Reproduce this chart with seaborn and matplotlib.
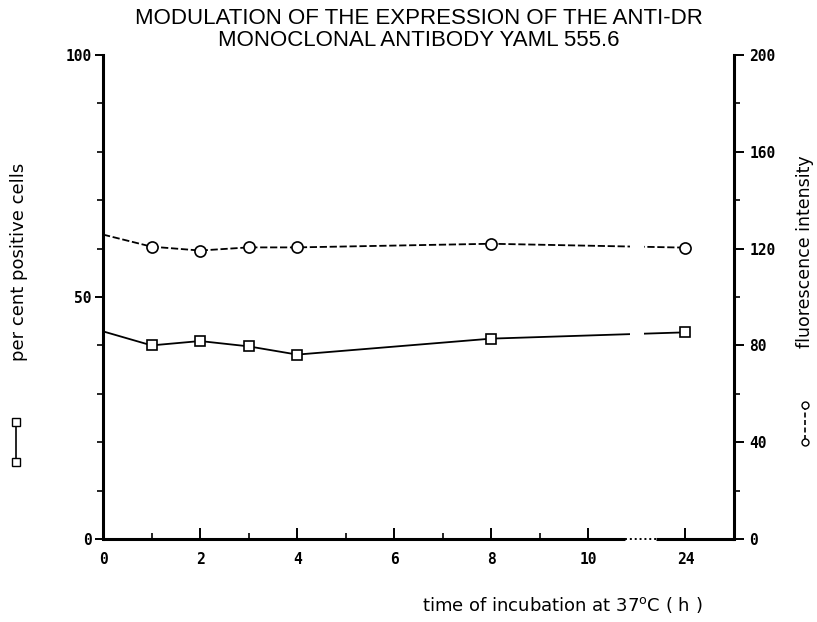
import numpy as np
import matplotlib
matplotlib.use("Agg")
import matplotlib.pyplot as plt
from matplotlib.ticker import MultipleLocator, FixedLocator
from matplotlib.lines import Line2D
import seaborn as sns

# ---- data ----
hours = [0, 1, 2, 3, 4, 8, 24]
percent_positive = [42.9, 40.0, 40.9, 39.8, 38.1, 41.4, 42.7]
fluorescence = [125.8, 120.8, 119.2, 120.5, 120.5, 122.0, 120.4]
x_tick_hours = [0, 2, 4, 6, 8, 10, 24]
x_minor_hours = [1, 3, 5, 7, 9]
left_ticks = [0, 50, 100]
right_ticks = [0, 40, 80, 120, 160, 200]

title_lines = ["MODULATION OF THE EXPRESSION OF THE ANTI-DR",
               "MONOCLONAL ANTIBODY YAML 555.6"]


def axis_pos(h):
    # broken time axis: values above 10 h are drawn 12 units earlier
    h = np.asarray(h, dtype=float)
    return np.where(h > 10, h - 12, h)


sns.set_theme(style="ticks")
plt.rcParams['font.family'] = ['DejaVu Sans']
plt.rcParams['text.color'] = 'black'
plt.rcParams['axes.labelcolor'] = 'black'
plt.rcParams['xtick.color'] = 'black'
plt.rcParams['ytick.color'] = 'black'
plt.rcParams['axes.edgecolor'] = 'black'

W, H = 817, 622
fig = plt.figure(figsize=(W / 100, H / 100), dpi=100)
ax = fig.add_axes([103 / W, 1 - 539 / H, (734 - 103) / W, (539 - 55) / H])
ax2 = ax.twinx()

xp = axis_pos(hours)

sns.lineplot(x=xp, y=percent_positive, ax=ax, color='black', lw=1.3,
             marker='s', markersize=7, markerfacecolor='white',
             markeredgecolor='black', markeredgewidth=1.2,
             markevery=list(range(1, len(hours))))
sns.lineplot(x=xp, y=fluorescence, ax=ax2, color='black', lw=1.3,
             linestyle=(0, (4, 1.5)),
             marker='o', markersize=8, markerfacecolor='white',
             markeredgecolor='black', markeredgewidth=1.2,
             markevery=list(range(1, len(hours))))

ax.set_xlim(0, 13.0)
ax.set_ylim(0, 100)
ax2.set_ylim(0, 200)

# gap in the curves at the axis break
ax2.axvspan(10.85, 11.15, ymin=0.03, ymax=0.97, color='white', zorder=3, lw=0)

for a in (ax, ax2):
    a.spines['top'].set_visible(False)
    a.spines['bottom'].set_visible(False)
ax.spines['right'].set_visible(False)
ax2.spines['left'].set_visible(False)
ax.spines['left'].set_linewidth(2.2)
ax2.spines['right'].set_linewidth(2.2)

# broken bottom axis line
ax2.plot([0, 10.75], [0, 0], color='black', lw=2.2, clip_on=False, zorder=5,
         solid_capstyle='butt')
ax2.plot([10.75, 11.4], [0, 0], color='black', lw=1.4, ls=(0, (1, 1.5)),
         clip_on=False, zorder=5)
ax2.plot([11.4, 13.0], [0, 0], color='black', lw=2.2, clip_on=False, zorder=5,
         solid_capstyle='butt')

tick_font = dict(family='DejaVu Sans Mono', weight='bold', size=10.5)

ax.xaxis.set_major_locator(FixedLocator(axis_pos(x_tick_hours)))
ax.set_xticklabels([str(h) for h in x_tick_hours], fontdict=tick_font)
ax.xaxis.set_minor_locator(FixedLocator(axis_pos(x_minor_hours)))
ax.tick_params(axis='x', which='major', direction='in', length=8, width=1.4,
               pad=9, color='black')
ax.tick_params(axis='x', which='minor', direction='in', length=4, width=1.2,
               color='black')

ax.set_yticks(left_ticks)
ax.set_yticklabels([str(v) for v in left_ticks], fontdict=tick_font)
ax.yaxis.set_minor_locator(MultipleLocator(10))
ax.tick_params(axis='y', which='major', direction='out', length=6, width=1.4,
               pad=2, color='black')
ax.tick_params(axis='y', which='minor', direction='out', length=4, width=1.2,
               color='black')

ax2.set_yticks(right_ticks)
ax2.set_yticklabels([str(v) for v in right_ticks], fontdict=tick_font)
ax2.yaxis.set_minor_locator(MultipleLocator(20))
ax2.tick_params(axis='y', which='major', direction='out', length=7, width=1.4,
                pad=4, color='black')
ax2.tick_params(axis='y', which='minor', direction='out', length=4, width=1.2,
                color='black')
ax2.tick_params(axis='x', which='both', length=0)

ax.set_xlabel('')
ax.set_ylabel('')
ax2.set_ylabel('')

# title
cx = (103 + 734) / 2 / W
fig.text(cx, 1 - 19 / H, title_lines[0], ha='center', va='center',
         fontsize=16, family='Liberation Sans', color='black')
fig.text(cx, 1 - 40 / H, title_lines[1], ha='center', va='center',
         fontsize=16, family='Liberation Sans', color='black')

# axis labels
fig.text(562 / W, 1 - 605 / H, 'time of incubation at 37$^{\\mathregular{o}}$C ( h )',
         ha='center', va='center', fontsize=13, color='black')
fig.text(19 / W, 1 - 262 / H, 'per cent positive cells', rotation=90,
         ha='center', va='center', fontsize=13, color='black')
fig.text(805 / W, 1 - 252 / H, 'fluorescence intensity', rotation=90,
         ha='center', va='center', fontsize=12.5, color='black')

# series keys next to the axis labels
fig.add_artist(Line2D([16 / W, 16 / W], [1 - 422 / H, 1 - 462 / H],
                      transform=fig.transFigure, color='black', lw=1.2,
                      marker='s', markersize=6, markerfacecolor='white',
                      markeredgecolor='black'))
fig.add_artist(Line2D([805 / W, 805 / W], [1 - 405 / H, 1 - 442 / H],
                      transform=fig.transFigure, color='black', lw=1.2,
                      ls=(0, (3, 1.5)), marker='o', markersize=5,
                      markerfacecolor='white', markeredgecolor='black'))

fig.savefig('out.png', dpi=100)
